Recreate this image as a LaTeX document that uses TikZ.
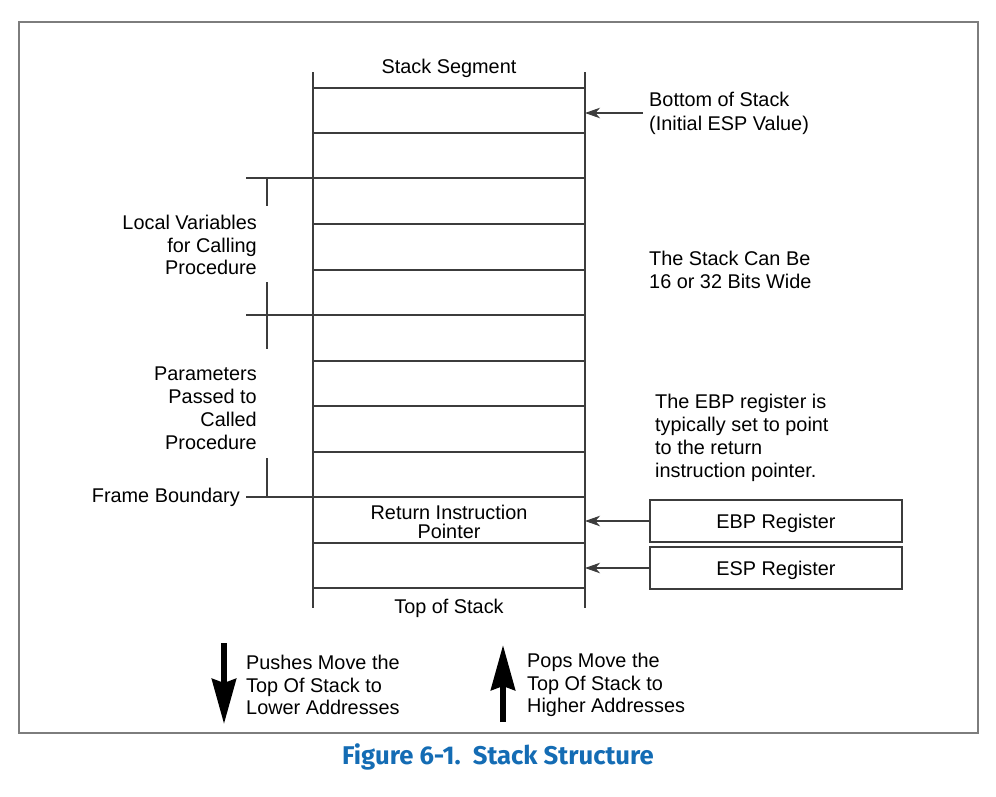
\documentclass[tikz,border=0pt]{standalone}
\usepackage{fontspec}
\setmainfont{Liberation Sans}
\newfontfamily\capfont{Fira Sans}
\usetikzlibrary{arrows.meta}
\definecolor{capblue}{RGB}{20,108,180}
\definecolor{framegray}{RGB}{125,125,125}
\definecolor{linegray}{RGB}{60,60,60}

\begin{document}
\begin{tikzpicture}[x=0.2mm,y=-0.2mm,
	every node/.style={font=\fontsize{11.3}{13}\selectfont},
	stackline/.style={draw=linegray,line width=0.6pt},
	ptr/.style={linegray,line width=0.6pt,-{Stealth[length=3mm,width=2.1mm,inset=0.9mm]}},
	bigarrow/.style={line width=1.2mm,-{Stealth[length=9mm,width=4.8mm,inset=0.8mm]}},
	regbox/.style={draw=linegray,line width=0.6pt,minimum width=50.4mm,minimum height=8.4mm,text height=11pt,text depth=2.5pt}]

	\useasboundingbox (0,0) rectangle (996,796);
	\draw[framegray,line width=0.4mm] (19,22) rectangle (978,733);

	\coordinate (left) at (313,0);
	\coordinate (right) at (585,0);
	\draw[stackline] (313,72) -- (313,608);
	\draw[stackline] (585,72) -- (585,608);
	\foreach \y in {88,133,178,224,270,315,361,406,452,497,543,588}
		\draw[stackline] (313,\y) -- (585,\y);

	\draw[stackline] (246,178) -- (313,178);
	\draw[stackline] (246,315) -- (313,315);
	\draw[stackline] (267,178) -- (267,206);
	\draw[stackline] (267,282) -- (267,349);
	\draw[stackline] (267,458) -- (267,497);

	\node (seg) at (449,68) {Stack Segment};
	\node[anchor=west,align=left,font=\fontsize{11.3}{13.6}\selectfont] (bos) at (643,113) {Bottom of Stack\\(Initial ESP Value)};
	\node[anchor=east,align=right] (locals) at (263,245) {Local Variables\\for Calling\\Procedure};
	\node[anchor=west,align=left] (wide) at (643,270) {The Stack Can Be\\16 or 32 Bits Wide};
	\node[anchor=east,align=right] (params) at (263,408) {Parameters\\Passed to\\Called\\Procedure};
	\node[anchor=west,align=left] (ebpnote) at (649,438) {The EBP register is\\typically set to point\\to the return\\instruction pointer.};
	\node[anchor=east] (fb) at (246,497) {Frame Boundary};
	\node[align=center,font=\fontsize{11.3}{10.8}\selectfont] (rip) at (449,522) {Return Instruction\\Pointer};
	\node (tos) at (449,608) {Top of Stack};

	\node[regbox] (ebp) at (776,521) {EBP Register};
	\node[regbox] (esp) at (776,568) {ESP Register};

	\draw[stackline] (fb.east) -- (fb.east -| left);
	\draw[ptr] (bos.west) -- (bos.west -| right);
	\draw[ptr] (ebp.west) -- (ebp.west -| right);
	\draw[ptr] (esp.west) -- (esp.west -| right);

	\coordinate (pushtop) at (224,643);
	\coordinate (pushbot) at (224,724);
	\coordinate (poptop) at (503,645);
	\coordinate (popbot) at (503,722);
	\draw[bigarrow] (pushtop) -- (pushbot);
	\draw[bigarrow] (popbot) -- (poptop);
	\node[anchor=west,align=left] (push) at (240,685) {Pushes Move the\\Top Of Stack to\\Lower Addresses};
	\node[anchor=west,align=left] (pop) at (521,685) {Pops Move the\\Top Of Stack to\\Higher Addresses};

	\node[font=\capfont\bfseries\fontsize{14.6}{17}\selectfont,text=capblue] (cap) at (498,757) {Figure 6-1.\ \ Stack Structure};
\end{tikzpicture}
\end{document}
